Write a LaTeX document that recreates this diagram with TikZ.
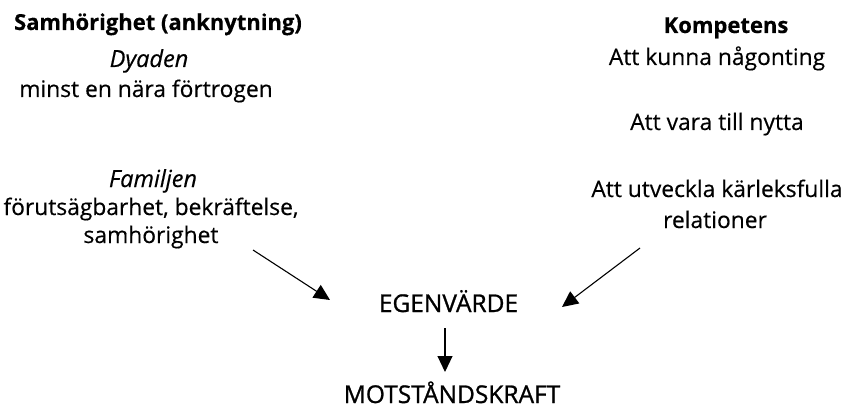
\documentclass[tikz,border=0pt]{standalone}
\usepackage{fontspec}
\setmainfont{Open Sans}[FakeBold=0.4]
\usetikzlibrary{arrows.meta}
\tikzset{
  txt/.style={anchor=base, inner sep=0pt, font=\fontsize{22.8}{26}\selectfont},
  hd/.style={txt, font=\fontsize{22}{26}\selectfont\bfseries},
  it/.style={txt, font=\fontsize{23.5}{26}\selectfont\itshape},
  mid/.style={txt, font=\fontsize{24.5}{28}\selectfont\addfontfeature{FakeBold=1}},
  arr/.style={line width=1.1pt, -{Triangle[length=16pt,width=15pt]}}
}
\begin{document}
\begin{tikzpicture}[x=1pt,y=-1pt]
\useasboundingbox (0,0) rectangle (846,409);
\node[hd] (t1) at (158,30) {Samhörighet (anknytning)};
\node[it] (d1) at (149,67) {Dyaden};
\node[txt] (d2) at (146,97) {minst en nära förtrogen};
\node[it] (f1) at (153,187) {Familjen};
\node[txt] (f2) at (151,215) {förutsägbarhet, bekräftelse,};
\node[txt] (f3) at (151,243) {samhörighet};
\node[hd] (t2) at (726,33) {Kompetens};
\node[txt] (k1) at (717,65) {Att kunna någonting};
\node[txt] (k2) at (717,130) {Att vara till nytta};
\node[txt] (k3) at (717,197) {Att utveckla kärleksfulla};
\node[txt] (k4) at (715,228) {relationer};
\node[mid] (e) at (448.5,312) {EGENVÄRDE};
\node[mid] (m) at (452,403) {MOTSTÅNDSKRAFT};
\coordinate (a1) at (253,250);
\coordinate (a1e) at (330,300);
\coordinate (a2) at (640,248);
\coordinate (a2e) at (562,307);
\coordinate (a3) at (445,328);
\coordinate (a3e) at (445,372);
\draw[arr] (a1) -- (a1e);
\draw[arr] (a2) -- (a2e);
\draw[arr] (a3) -- (a3e);
\end{tikzpicture}
\end{document}
